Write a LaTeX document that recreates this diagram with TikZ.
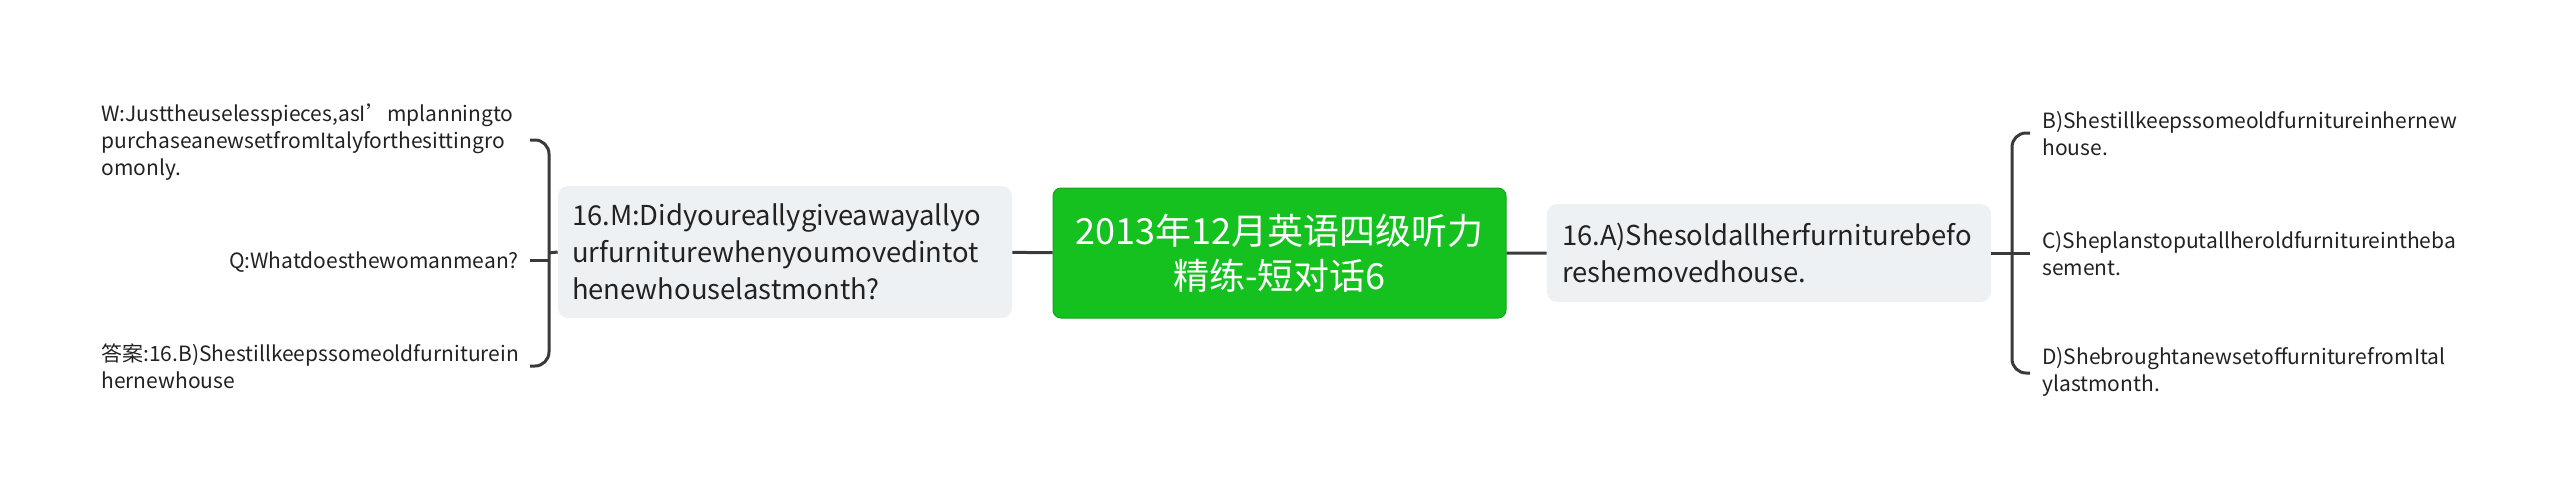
\documentclass[tikz,border=0pt]{standalone}
\usepackage{fontspec}
\setmainfont{Noto Sans CJK SC}
\usetikzlibrary{positioning}

\definecolor{rootgreen}{HTML}{14C11F}
\definecolor{topicgray}{HTML}{EEF1F4}
\definecolor{linkgray}{HTML}{3A3A3A}
\definecolor{textdark}{HTML}{222222}

\tikzset{
  rootbox/.style={fill=rootgreen, draw=rootgreen!85!black, line width=0.5pt, rounded corners=4pt,
    text=white, font=\fontsize{18}{22.5}\selectfont, align=center,
    minimum width=226.5pt, minimum height=65pt, inner sep=0pt},
  topicbox/.style={fill=topicgray, rounded corners=5pt, text=textdark,
    font=\fontsize{13.7}{18.5}\selectfont, align=left, inner sep=0pt},
  leaftext/.style={text=textdark, font=\fontsize{10.5}{13.5}\selectfont, align=left, inner sep=0pt},
  link/.style={draw=linkgray, line width=1.5pt},
}

\begin{document}
\begin{tikzpicture}[x=0.5pt, y=-0.5pt]
  \useasboundingbox (0,0) rectangle (2560,500);

  % centre
  \node[rootbox] (root) at (1279.5,253) {2013年12月英语四级听力\\精练-短对话6};

  % question side
  \node[topicbox, minimum width=227pt, minimum height=66pt, text width=213pt] (quest) at (785,252)
    {16.M:Didyoureallygiveawayallyo\\urfurniturewhenyoumovedintot\\henewhouselastmonth?};
  \node[leaftext, anchor=west] (wsay) at (101,142)
    {W:Justtheuselesspieces,asI’mplanningto\\purchaseanewsetfromItalyforthesittingro\\omonly.};
  \node[leaftext, anchor=east] (qask) at (519,262) {Q:Whatdoesthewomanmean?};
  \node[leaftext, anchor=west] (key) at (101,366)
    {答案:16.B)Shestillkeepssomeoldfurniturein\\hernewhouse};

  % option side
  \node[topicbox, minimum width=222pt, minimum height=49pt, text width=207pt] (optA) at (1769,253)
    {16.A)Shesoldallherfurniturebefo\\reshemovedhouse.};
  \node[leaftext, anchor=west] (optB) at (2042,134)
    {B)Shestillkeepssomeoldfurnitureinhernew\\house.};
  \node[leaftext, anchor=west] (optC) at (2042,254)
    {C)Sheplanstoputallheroldfurnitureintheba\\sement.};
  \node[leaftext, anchor=west] (optD) at (2042,372)
    {D)ShebroughtanewsetoffurniturefromItal\\ylastmonth.};

  % connectors
  \coordinate (lj) at (549,253);
  \coordinate (rj) at (2012,253);
  \path[link]
    (root) -- (quest)
    (root) -- (optA);
  \draw[link] (quest.west) -- (lj);
  \draw[link, rounded corners=7pt] (530,140) -| (lj) |- (530,366);
  \draw[link] (530,260) -- (549,260);
  \draw[link] (optA.east) -- (2030,253);
  \draw[link, rounded corners=7pt] (2030,133) -| (rj) |- (2030,373);
\end{tikzpicture}
\end{document}
